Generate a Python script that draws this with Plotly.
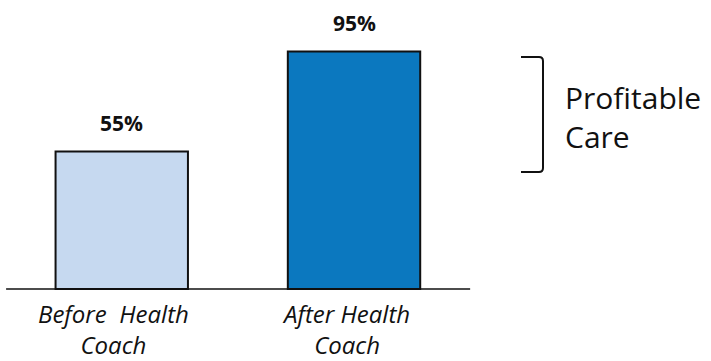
import plotly.graph_objects as go

# Share of care that is profitable, before and after a health coach
categories = ["Before&nbsp;&nbsp;Health<br>Coach", "After Health<br>Coach"]
values = [55, 95]
bar_colors = ["#C6D9F0", "#0B78BF"]

W, H = 711, 361

fig = go.Figure(
    go.Bar(
        x=[0, 1],
        y=values,
        width=0.57,
        marker=dict(color=bar_colors, line=dict(color="#111111", width=2)),
        hoverinfo="skip",
    )
)

# value labels above each bar
for i, v in enumerate(values):
    fig.add_annotation(
        x=i, y=v, text=f"<b>{v}%</b>", showarrow=False,
        yanchor="bottom", yshift=13,
        font=dict(family="Open Sans", size=21, color="#111111"),
    )

# category labels under the baseline
for i, c in enumerate(categories):
    fig.add_annotation(
        x=i, y=0, text=f"<i>{c}</i>", showarrow=False,
        yanchor="top", yshift=-6, xshift=-8,
        font=dict(family="Open Sans", size=24, color="#111111"),
    )

# baseline
fig.add_shape(type="line", xref="x", yref="y", x0=-0.498, x1=1.5, y0=0, y1=0,
              line=dict(color="#111111", width=1.5))


def px(x, y):
    return f"{x / W:.5f},{1 - y / H:.5f}"


# bracket marking the profitable range
bracket = (
    f"M {px(521, 57)} L {px(539, 57)} Q {px(543, 57)} {px(543, 61)} "
    f"L {px(543, 168)} Q {px(543, 172)} {px(539, 172)} L {px(521, 172)}"
)
fig.add_shape(type="path", xref="paper", yref="paper", path=bracket,
              line=dict(color="#111111", width=2))

fig.add_annotation(
    xref="paper", yref="paper", x=563 / W, y=1 - 117 / H,
    text="Profitable<br>Care", showarrow=False, align="left",
    xanchor="left", yanchor="middle",
    font=dict(family="Open Sans", size=30, color="#111111"),
)

fig.update_layout(
    width=W, height=H,
    margin=dict(l=0, r=0, t=0, b=0),
    paper_bgcolor="white", plot_bgcolor="white",
    showlegend=False,
    xaxis=dict(range=[-0.5242, 2.537], visible=False, fixedrange=True),
    yaxis=dict(range=[-28.8, 115.6], visible=False, fixedrange=True),
)

fig.write_html("out.html", config={"displayModeBar": False})
